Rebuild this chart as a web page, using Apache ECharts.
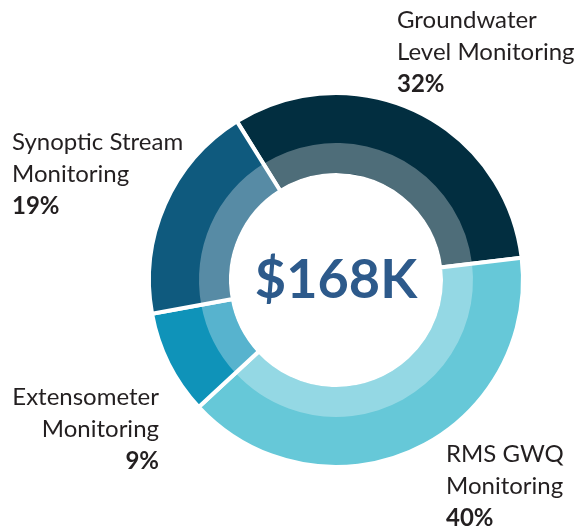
<!DOCTYPE html>
<html>
<head>
<meta charset="utf-8" />
<title>Monitoring budget</title>
<script src="https://cdn.jsdelivr.net/npm/echarts@6/dist/echarts.min.js"></script>
<style>
	html,body{ margin:0; padding:0; background:#fff;}
	#chart{ width:582px; height:529px;}
</style>
</head>
<body>
<div id="chart"></div>
<script>
// data, clockwise from upper left
var names = ['Groundwater\nLevel Monitoring', 'RMS GWQ\nMonitoring', 'Extensometer\nMonitoring', 'Synoptic Stream\nMonitoring'];
var shares = [32, 40, 9, 19];
var totalLabel = '$168K';

var colors = ['#022e40', '#66c8d8', '#0f93b9', '#0f5a7e'];
// label anchors: x, top, align
var labelPos = [[397, 4, 'left'], [446, 438, 'left'], [159, 381, 'right'], [12, 126, 'left']];

var cx = 336, cy = 280;

var outerData = [], innerData = [];
for (var i = 0; i < shares.length; i++) {
	outerData.push({ name: names[i], value: shares[i], itemStyle: { color: colors[i] } });
	innerData.push({ name: names[i], value: shares[i] });
}

var chart = echarts.init(document.getElementById('chart'));
chart.setOption({
	animation: false,
	series: [
		{
			type: 'pie',
			center: [cx, cy],
			radius: [105, 187],
			startAngle: 122,
			clockwise: true,
			silent: true,
			itemStyle: { borderColor: '#fff', borderWidth: 4 },
			label: {
				show: true,
				position: 'outside',
				overflow: 'none',
				width: 220,
				formatter: function (p) {
					var lines = p.name.split('\n');
					var s = '';
					for (var k = 0; k < lines.length; k++) s += '{n|' + lines[k] + '}\n';
					return s + '{p|' + p.value + '%}';
				},
				rich: {
					n: { fontFamily: 'Lato', fontSize: 24, color: '#231f20', lineHeight: 32 },
					p: { fontFamily: 'Lato', fontSize: 24, fontWeight: 'bold', color: '#231f20', lineHeight: 32 }
				}
			},
			labelLine: { show: false },
			labelLayout: function (params) {
				var lp = labelPos[params.dataIndex];
				return { x: lp[0], y: lp[1], align: lp[2], verticalAlign: 'top', hideOverlap: false };
			},
			data: outerData
		},
		{
			type: 'pie',
			center: [cx, cy],
			radius: [107, 137],
			startAngle: 122,
			clockwise: true,
			silent: true,
			z: 3,
			itemStyle: { color: 'rgba(255,255,255,0.3)' },
			label: { show: false },
			labelLine: { show: false },
			data: innerData
		}
	],
	graphic: [{
		type: 'text',
		x: cx,
		y: cy + 1,
		z: 10,
		style: {
			text: totalLabel,
			fontFamily: 'Lato',
			fontSize: 54,
			fontWeight: 'bold',
			fill: '#2d5a8b',
			align: 'center',
			verticalAlign: 'middle'
		}
	}]
});
</script>
</body>
</html>
